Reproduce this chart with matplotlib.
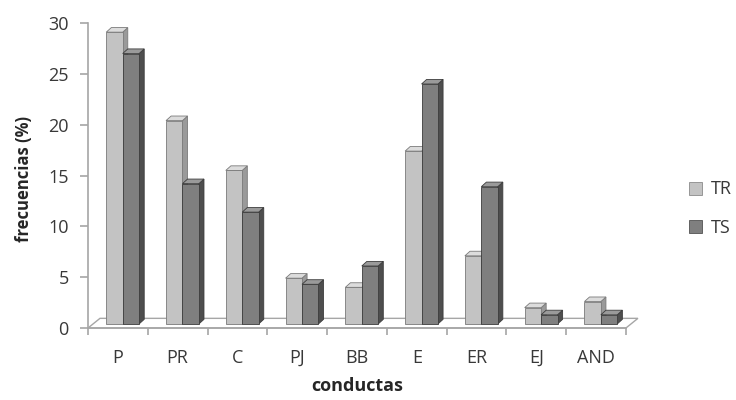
import matplotlib.pyplot as plt
from matplotlib.patches import Polygon, Patch
import numpy as np

plt.rcParams['font.family'] = ['Open Sans', 'DejaVu Sans']

categorias = ['P', 'PR', 'C', 'PJ', 'BB', 'E', 'ER', 'EJ', 'AND']
tr = [28.7, 20.0, 15.1, 4.5, 3.6, 17.0, 6.7, 1.6, 2.2]
ts = [26.6, 13.8, 11.0, 3.9, 5.7, 23.6, 13.5, 0.9, 0.9]
series = [('TR', tr), ('TS', ts)]

# colores: frente, lado, tapa, borde
colores = {
    'TR': ('#c3c3c3', '#9a9a9a', '#dcdcdc', '#7a7a7a'),
    'TS': ('#7f7f7f', '#4e4e4e', '#9a9a9a', '#3c3c3c'),
}

fig = plt.figure(figsize=(7.36, 4.0), dpi=100)
ax = fig.add_axes([0.1196, 0.18, 0.7309, 0.7625])

x = np.arange(len(categorias))
ancho = 0.275
sx, sy = 0.08, 0.4      # desplazamiento del frente (efecto 3D)
dx, dy = 0.085, 0.45    # profundidad de la barra

# piso
piso = Polygon([(-0.5, 0), (8.5, 0), (8.5 + 0.2, 0.95), (-0.5 + 0.2, 0.95)],
               closed=True, facecolor='white', edgecolor='#a6a6a6', lw=1.0,
               zorder=1, clip_on=False)
ax.add_patch(piso)

for j, (nombre, vals) in enumerate(series):
    frente, lado, tapa, borde = colores[nombre]
    xs = x + (j - 0.5) * ancho + sx
    ax.bar(xs, vals, width=ancho, bottom=sy, color=frente, edgecolor=borde,
           linewidth=0.6, zorder=3 + 2 * j, label=nombre)
    for xi, v in zip(xs, vals):
        x0, x1 = xi - ancho / 2, xi + ancho / 2
        y0, y1 = sy, sy + v
        ax.add_patch(Polygon([(x1, y0), (x1 + dx, y0 + dy), (x1 + dx, y1 + dy), (x1, y1)],
                             closed=True, facecolor=lado, edgecolor=borde, lw=0.6,
                             zorder=2 + 2 * j, clip_on=False))
        ax.add_patch(Polygon([(x0, y1), (x1, y1), (x1 + dx, y1 + dy), (x0 + dx, y1 + dy)],
                             closed=True, facecolor=tapa, edgecolor=borde, lw=0.6,
                             zorder=2 + 2 * j, clip_on=False))

ax.set_xlim(-0.5, 8.5)
ax.set_ylim(0, 30)
ax.set_yticks([0, 5, 10, 15, 20, 25, 30])
ax.set_xticks(x)
ax.set_xticklabels(categorias)
ax.set_xticks(np.arange(-0.5, 9, 1), minor=True)

for s in ['top', 'right']:
    ax.spines[s].set_visible(False)
for s in ['left', 'bottom']:
    ax.spines[s].set_color('#a6a6a6')
    ax.spines[s].set_linewidth(1.2)

ax.tick_params(axis='y', length=6, width=1.2, color='#a6a6a6', pad=8,
               labelsize=13, labelcolor='#383838')
ax.tick_params(axis='x', which='major', length=0, pad=15,
               labelsize=13, labelcolor='#383838')
ax.tick_params(axis='x', which='minor', length=5, width=1.2, color='#a6a6a6')

ax.set_ylabel('frecuencias (%)', fontsize=12, fontweight='bold', color='#262626')
ax.yaxis.set_label_coords(-0.103, 0.49)
ax.set_xlabel('conductas', fontsize=13, fontweight='bold', color='#262626')
ax.xaxis.set_label_coords(0.5, -0.16)

handles = [Patch(facecolor=colores[n][0], edgecolor=colores[n][3], lw=0.5) for n, _ in series]
fig.legend(handles, [n for n, _ in series], loc='center left', bbox_to_anchor=(0.936, 0.478),
           frameon=False, fontsize=13, handlelength=0.75, handleheight=0.75,
           handletextpad=0.45, labelspacing=1.15, borderpad=0, borderaxespad=0,
           labelcolor='#383838')

fig.savefig('out.png', dpi=100)
